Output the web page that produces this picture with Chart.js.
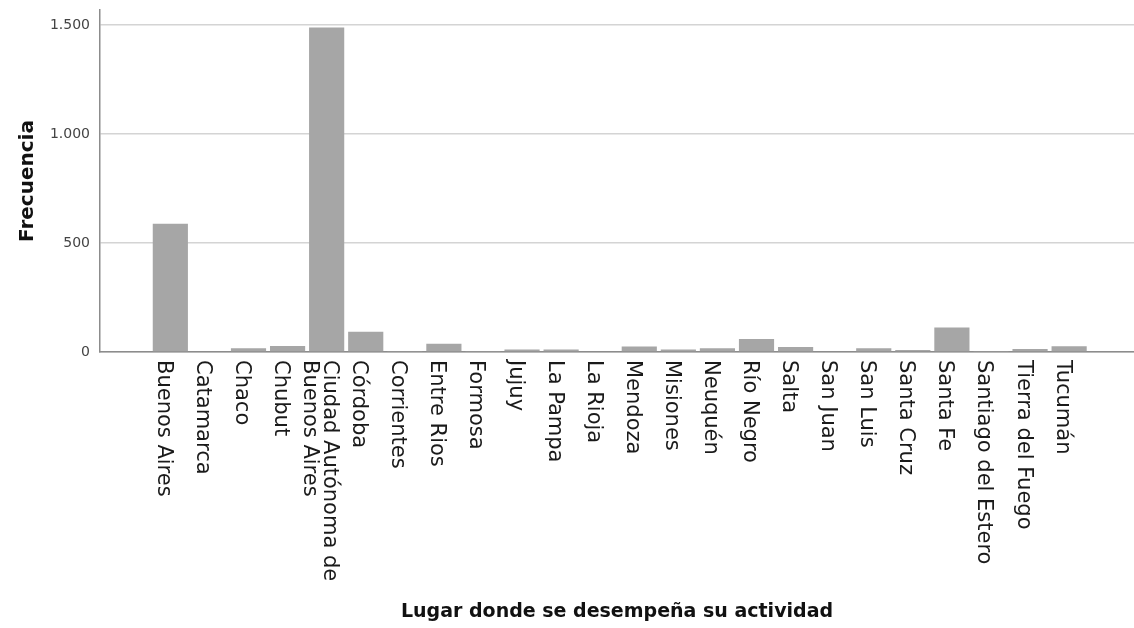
<!DOCTYPE html>
<html>
<head>
<meta charset="utf-8">
<script src="https://cdn.jsdelivr.net/npm/chart.js@4"></script>
<style>
  html, body { margin: 0; padding: 0; background: #fff; }
  #wrap { width: 1134px; height: 628px; }
</style>
</head>
<body>
<div id="wrap"><canvas id="freqChart"></canvas></div>
<script>
// Datos
const provincias = [
    'Buenos Aires', 'Catamarca', 'Chaco', 'Chubut',
    ['Ciudad Autónoma de', 'Buenos Aires'], 'Córdoba', 'Corrientes', 'Entre Rios',
    'Formosa', 'Jujuy', 'La Pampa', 'La Rioja', 'Mendoza', 'Misiones', 'Neuquén',
    'Río Negro', 'Salta', 'San Juan', 'San Luis', 'Santa Cruz', 'Santa Fe',
    'Santiago del Estero', 'Tierra del Fuego', 'Tucumán'
];
const frecuencias = [
    589, 3, 17, 28, 1490, 93, 2, 38,
    2, 12, 12, 4, 25, 12, 17,
    60, 23, 4, 17, 9, 113,
    5, 14, 26
];
const yTicks = [0, 500, 1000, 1500];
const yTickLabels = ['0', '500', '1.000', '1.500'];

// Etiquetas del eje X giradas 90° en sentido horario (como SPSS)
const verticalLabels = {
    id: 'verticalLabels',
    afterDraw(chart) {
        const ctx = chart.ctx;
        const xs = chart.scales.x;
        const lineH = 20;
        ctx.save();
        ctx.font = '21px "DejaVu Sans"';
        ctx.fillStyle = '#1a1a1a';
        ctx.textAlign = 'left';
        ctx.textBaseline = 'alphabetic';
        provincias.forEach((lab, i) => {
            const lines = Array.isArray(lab) ? lab : [lab];
            const px = xs.getPixelForValue(i);
            lines.forEach((txt, k) => {
                const bx = px - 12.5 + (lines.length - 1) * lineH / 2 - k * lineH;
                ctx.save();
                ctx.translate(bx, xs.top + 8);
                ctx.rotate(Math.PI / 2);
                ctx.fillText(txt, 0, 0);
                ctx.restore();
            });
        });
        ctx.restore();
    }
};

const ctx = document.getElementById('freqChart').getContext('2d');
new Chart(ctx, {
    type: 'bar',
    data: {
        datasets: [{
            label: 'Frecuencia',
            data: frecuencias.map((v, i) => ({ x: i, y: v })),
            backgroundColor: '#a6a6a6',
            borderWidth: 0,
            barPercentage: 0.9,
            categoryPercentage: 1
        }]
    },
    options: {
        responsive: true,
        maintainAspectRatio: false,
        animation: false,
        layout: { padding: { top: 10, left: 16, right: 0, bottom: 5 } },
        plugins: { legend: { display: false }, tooltip: { enabled: false } },
        scales: {
            x: {
                type: 'linear',
                min: -1.8,
                max: 24.66,
                offset: false,
                grid: { display: false, drawTicks: false },
                border: { display: true, color: '#8c8c8c', width: 1.5 },
                ticks: { display: false },
                afterBuildTicks: s => { s.ticks = provincias.map((_, i) => ({ value: i })); },
                afterFit: s => { s.height = 271; s.paddingLeft = 0; s.paddingRight = 0; },
                title: {
                    display: true,
                    text: 'Lugar donde se desempeña su actividad',
                    font: { family: 'DejaVu Sans', size: 19, weight: 'bold' },
                    color: '#111',
                    padding: { top: 4, bottom: 0 }
                }
            },
            y: {
                min: 0,
                max: 1570,
                grid: { color: '#d4d4d4', lineWidth: 1.5, drawTicks: false },
                border: { display: true, color: '#8c8c8c', width: 1.5 },
                afterBuildTicks: s => { s.ticks = yTicks.map(v => ({ value: v })); },
                afterFit: s => { s.width = 84; s.paddingTop = 0; s.paddingBottom = 0; },
                ticks: {
                    padding: 10,
                    color: '#444',
                    font: { family: 'DejaVu Sans', size: 14 },
                    callback: v => yTickLabels[yTicks.indexOf(v)]
                },
                title: {
                    display: true,
                    text: 'Frecuencia',
                    font: { family: 'DejaVu Sans', size: 20, weight: 'bold' },
                    color: '#111',
                    padding: { top: 0, bottom: 0 }
                }
            }
        }
    },
    plugins: [verticalLabels]
});
</script>
</body>
</html>
